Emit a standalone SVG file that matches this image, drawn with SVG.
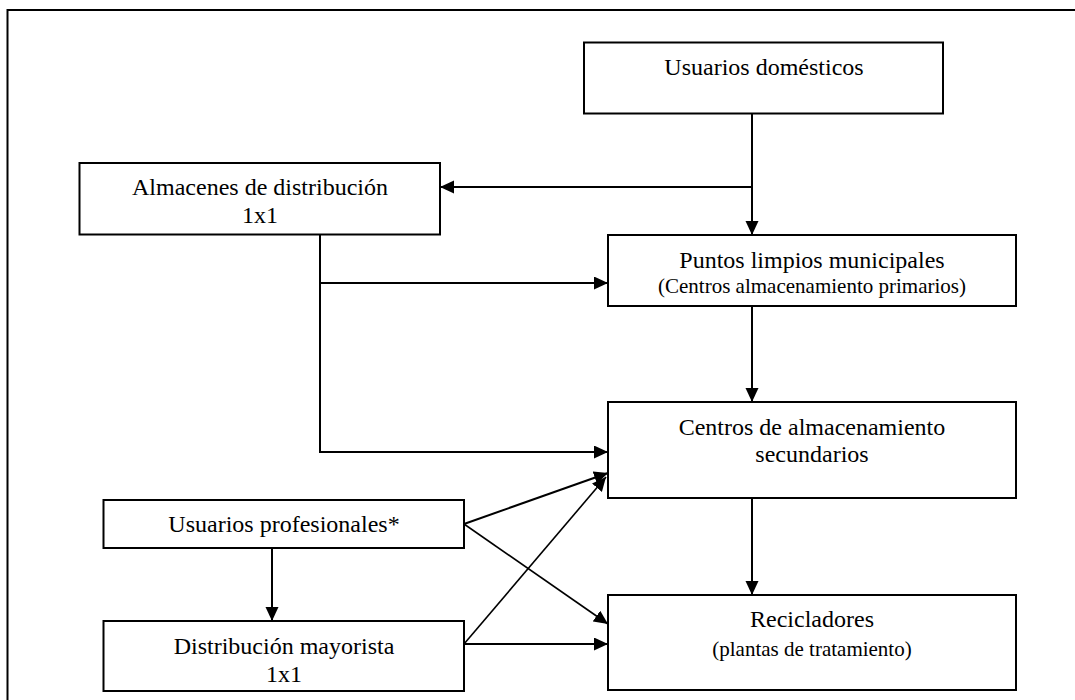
<svg xmlns="http://www.w3.org/2000/svg" width="1075" height="700" viewBox="0 0 1075 700">
<defs>
<marker id="arr" markerUnits="userSpaceOnUse" markerWidth="15" markerHeight="14" refX="14" refY="6.5" orient="auto">
<path d="M0,0 L14,6.5 L0,13 z" fill="#000"/>
</marker>
<style>
.box{fill:#fff;stroke:#000;stroke-width:2}
.t{font-family:"Liberation Serif","Times New Roman",serif;font-size:24px;fill:#000;text-anchor:middle}
.s{font-size:21px}
.c{fill:none;stroke:#000;stroke-width:2}
.d{fill:none;stroke:#000;stroke-width:1.6}
</style>
</defs>
<rect x="0" y="0" width="1075" height="700" fill="#fff"/>
<rect x="7.5" y="10" width="1080" height="710" fill="none" stroke="#000" stroke-width="2"/>
<g id="connectors">
<line class="c" x1="752" y1="114" x2="752" y2="235" marker-end="url(#arr)"/>
<line class="c" x1="752" y1="187" x2="440" y2="187" marker-end="url(#arr)"/>
<polyline class="c" points="320,234 320,452 608,452" marker-end="url(#arr)"/>
<line class="c" x1="320" y1="283" x2="608" y2="283" marker-end="url(#arr)"/>
<line class="c" x1="752" y1="306" x2="752" y2="402" marker-end="url(#arr)"/>
<line class="c" x1="752" y1="498" x2="752" y2="595" marker-end="url(#arr)"/>
<line class="c" x1="272" y1="548" x2="272" y2="621" marker-end="url(#arr)"/>
<line class="c" x1="464" y1="524" x2="608" y2="473" marker-end="url(#arr)"/>
<line class="d" x1="464" y1="524" x2="608" y2="624" marker-end="url(#arr)"/>
<line class="d" x1="464" y1="644" x2="606" y2="477" marker-end="url(#arr)"/>
<line class="c" x1="464" y1="644" x2="608" y2="644" marker-end="url(#arr)"/>
</g>
<g id="usuarios-domesticos">
<rect class="box" x="584" y="42.5" width="359" height="71"/>
<text class="t" x="764" y="75">Usuarios domésticos</text>
</g>
<g id="almacenes">
<rect class="box" x="79.5" y="163" width="360.5" height="71.5"/>
<text class="t" x="260" y="195">Almacenes de distribución</text>
<text class="t" x="260" y="223">1x1</text>
</g>
<g id="puntos-limpios">
<rect class="box" x="608" y="235" width="408" height="71"/>
<text class="t" x="812" y="268">Puntos limpios municipales</text>
<text class="t s" x="812" y="293">(Centros almacenamiento primarios)</text>
</g>
<g id="centros-secundarios">
<rect class="box" x="608" y="402" width="408" height="96"/>
<text class="t" x="812" y="435">Centros de almacenamiento</text>
<text class="t" x="812" y="462">secundarios</text>
</g>
<g id="recicladores">
<rect class="box" x="608" y="595" width="408" height="95"/>
<text class="t" x="812" y="627">Recicladores</text>
<text class="t s" x="812" y="656">(plantas de tratamiento)</text>
</g>
<g id="usuarios-profesionales">
<rect class="box" x="103.5" y="500" width="360.5" height="48"/>
<text class="t" x="284" y="532">Usuarios profesionales*</text>
</g>
<g id="distribucion-mayorista">
<rect class="box" x="103.5" y="621" width="360.5" height="70"/>
<text class="t" x="284" y="653.5">Distribución mayorista</text>
<text class="t" x="284" y="681.5">1x1</text>
</g>
</svg>
